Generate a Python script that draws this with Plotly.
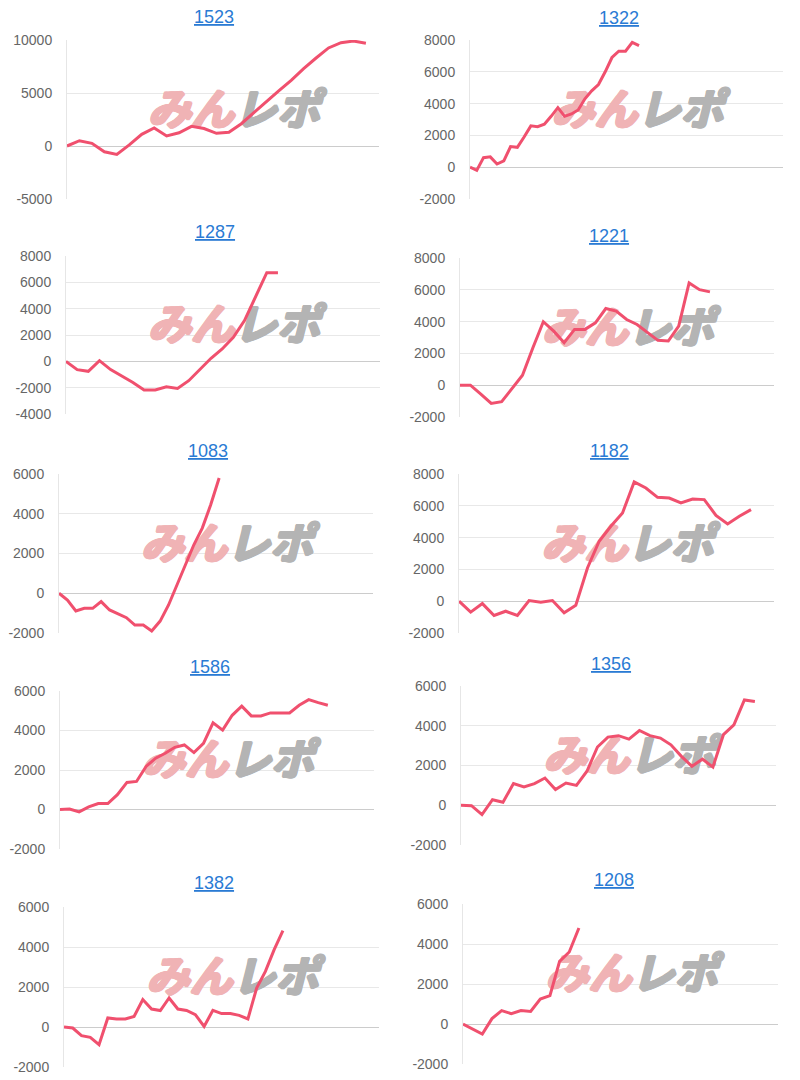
import plotly.graph_objects as go
import numpy as np

# ---------------- data ----------------
titles = ["1523", "1322", "1287", "1221", "1083", "1182", "1586", "1356", "1382", "1208"]

diff_1523 = [0, 500, 250, -550, -800, 100, 1100, 1700, 950, 1250, 1850, 1650, 1200, 1300,
             2100, 3150, 4150, 5200, 6200, 7300, 8300, 9250, 9750, 9900, 9700]
diff_1322 = [0, -200, 600, 650, 200, 400, 1300, 1250, 1900, 2600, 2550, 2700, 3200, 3750,
             3200, 3350, 3600, 4300, 4800, 5200, 6000, 6900, 7300, 7300, 7850, 7650]
diff_1287 = [0, -630, -760, 50, -630, -1090, -1600, -2180, -2180, -1930, -2060, -1470,
             -630, 230, 940, 1830, 3100, 4870, 6730, 6730]
diff_1221 = [0, 0, -560, -1150, -1040, -190, 630, 2360, 3990, 3400, 2670, 3510, 3510,
             3920, 4820, 4660, 4130, 3820, 3300, 2820, 2780, 3720, 6430, 6010, 5870]
diff_1083 = [0, -340, -890, -760, -760, -420, -840, -1040, -1230, -1600, -1600, -1900,
             -1400, -590, 420, 1430, 2440, 3280, 4450, 5800]
diff_1182 = [0, -690, -150, -900, -630, -900, 40, -60, 40, -730, -250, 2090, 3770, 4710,
             5550, 7500, 7120, 6530, 6490, 6180, 6430, 6390, 5400, 4860, 5340, 5760]
diff_1586 = [0, 20, -120, 130, 300, 300, 750, 1370, 1420, 2180, 2600, 2850, 3150, 3270,
             2880, 3350, 4390, 4020, 4770, 5230, 4740, 4740, 4890, 4890, 4890, 5280, 5560,
             5410, 5280]
diff_1356 = [0, -20, -470, 280, 150, 1090, 920, 1090, 1370, 790, 1120, 1000, 1710, 2930,
             3430, 3500, 3330, 3760, 3500, 3380, 3040, 2460, 1960, 2320, 1920, 3550, 4050,
             5300, 5220]
diff_1382 = [0, -50, -430, -520, -880, 450, 400, 400, 530, 1370, 900, 820, 1450, 900, 830,
             620, 30, 830, 670, 670, 580, 400, 1950, 2780, 3870, 4820]
diff_1208 = [0, -250, -500, 270, 670, 520, 670, 630, 1250, 1420, 3130, 3600, 4800]

series = [diff_1523, diff_1322, diff_1287, diff_1221, diff_1083,
          diff_1182, diff_1586, diff_1356, diff_1382, diff_1208]

# total games played per machine (x extent of each line)
games_total = [9580, 5400, 6750, 7960, 5100, 9270, 8530, 9330, 6950, 3680]
games_axis_max = 10000

y_min = [-5000, -2000, -4000, -2000, -2000, -2000, -2000, -2000, -2000, -2000]
y_max = [10000, 8000, 8000, 8000, 6000, 8000, 6000, 6000, 6000, 6000]
y_step = [5000, 2000, 2000, 2000, 2000, 2000, 2000, 2000, 2000, 2000]

watermark_parts = ["みん", "レポ"]

# ---------------- layout (pixel boxes) ----------------
W, H = 800, 1080
plot_boxes = [  # left, right, top, bottom in px
    (67, 379, 40, 199), (470, 783, 40, 199),
    (66, 380, 256, 414), (460, 774, 258, 417),
    (59, 373, 474, 633), (459, 774, 474, 633),
    (60, 374, 691, 849), (461, 776, 686, 845),
    (64, 379, 907, 1067), (463, 778, 904, 1064),
]
title_pos = [(214, 17), (619, 18), (215, 232), (609, 236), (208, 451),
             (609, 451), (210, 667), (611, 664), (214, 883), (614, 880)]

LINE_COLOR = "#f0506e"
TICK_FONT = dict(family="Liberation Sans, Arial, sans-serif", size=14, color="#666666")
WM_COLORS = ["#f0b3b5", "#b4b4b4"]
WM_POS = ["middle left", "middle right"]


def thick(c):
    return (f"1.5px 0 0 {c}, -1.5px 0 0 {c}, 0 1px 0 {c}, 0 -1px 0 {c}, "
            f"1px 1px 0 {c}, -1px -1px 0 {c}, 1px -1px 0 {c}, -1px 1px 0 {c}")


fig = go.Figure()
layout = dict(
    width=W, height=H, margin=dict(l=0, r=0, t=0, b=0, pad=0, autoexpand=False),
    paper_bgcolor="white", plot_bgcolor="white", showlegend=False,
    annotations=[],
)

for i in range(10):
    k = "" if i == 0 else str(i + 1)
    xa, ya = "x" + k, "y" + k
    l, r, t, b = plot_boxes[i]
    vals = series[i]
    xs = np.linspace(0, games_total[i], len(vals))

    # watermark (below the line)
    wx = games_axis_max * 0.535
    wy = y_min[i] + (y_max[i] - y_min[i]) * 0.535
    for part, col, pos in zip(watermark_parts, WM_COLORS, WM_POS):
        fig.add_trace(go.Scatter(
            x=[wx], y=[wy], mode="text", text=["<b>" + part + "</b>"],
            textposition=pos,
            textfont=dict(family="Noto Sans CJK JP", size=43, weight=900, style="italic",
                          color=col, shadow=thick(col)),
            hoverinfo="skip", xaxis=xa, yaxis=ya, cliponaxis=False))

    fig.add_trace(go.Scatter(
        x=xs, y=vals, mode="lines", line=dict(color=LINE_COLOR, width=3),
        xaxis=xa, yaxis=ya, hoverinfo="skip"))

    tvals = list(range(y_min[i], y_max[i] + 1, y_step[i]))
    layout["xaxis" + k] = dict(
        domain=[l / W, r / W], range=[0, games_axis_max], anchor=ya, automargin=False,
        showgrid=False, zeroline=False, showticklabels=False, ticks="", fixedrange=True)
    layout["yaxis" + k] = dict(
        domain=[1 - b / H, 1 - t / H], range=[y_min[i], y_max[i]], anchor=xa,
        automargin=False,
        tickmode="array", tickvals=tvals, ticktext=[str(v) for v in tvals],
        showgrid=True, gridcolor="#e8e8e8", gridwidth=1,
        zeroline=True, zerolinecolor="#cccccc", zerolinewidth=1,
        showline=True, linecolor="#e6e6e6", linewidth=1,
        ticks="", ticklabelstandoff=11, tickfont=TICK_FONT, fixedrange=True)

    tx, ty = title_pos[i]
    layout["annotations"].append(dict(
        text="<u>" + titles[i] + "</u>", x=tx / W, y=1 - ty / H, xref="paper", yref="paper",
        xanchor="center", yanchor="middle", showarrow=False,
        font=dict(family="Liberation Sans, Arial, sans-serif", size=18, color="#2a7bd4")))

fig.update_layout(**layout)
fig.write_html("out.html")
